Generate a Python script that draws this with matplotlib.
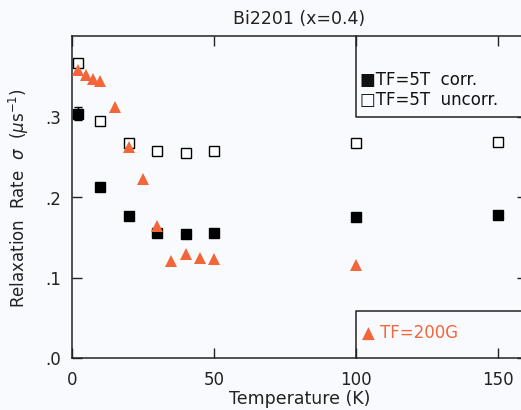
import matplotlib.pyplot as plt

# Datos: temperatura (K) y tasa de relajacion (us^-1)
T_5T = [2, 10, 20, 30, 40, 50, 100, 150]
sigma_corr = [0.304, 0.213, 0.176, 0.155, 0.154, 0.156, 0.175, 0.178]
sigma_uncorr = [0.367, 0.295, 0.268, 0.257, 0.255, 0.257, 0.268, 0.269]
err_corr = [0.008, 0, 0, 0, 0, 0, 0, 0]
err_uncorr = [0.005, 0, 0, 0, 0, 0, 0, 0]

T_200G = [2, 5, 7.5, 10, 15, 20, 25, 30, 35, 40, 45, 50, 100]
sigma_200G = [0.358, 0.352, 0.347, 0.344, 0.312, 0.263, 0.223, 0.164,
              0.121, 0.129, 0.124, 0.123, 0.116]

naranja = '#f2663a'
fondo = '#f9fafd'
tinta = '#222222'

fig = plt.figure(figsize=(5.21, 4.105), dpi=100, facecolor=fondo)
ax = fig.add_axes([0.138, 0.127, 0.873, 0.783], facecolor=fondo)

ax.errorbar(T_5T, sigma_uncorr, yerr=err_uncorr, fmt='s', mfc='white', mec='black',
            mew=1.0, ms=6.5, ecolor='black', elinewidth=1, capsize=3, zorder=3)
ax.errorbar(T_5T, sigma_corr, yerr=err_corr, fmt='s', color='black',
            ms=7, elinewidth=1, capsize=3, zorder=3)
ax.plot(T_200G, sigma_200G, '^', color=naranja, ms=8, mew=0, zorder=4)

ax.set_xlim(0, 160)
ax.set_ylim(0, 0.4)
ax.set_xticks([0, 50, 100, 150])
ax.set_yticks([0, 0.1, 0.2, 0.3])
ax.set_yticklabels(['.0', '.1', '.2', '.3'])
ax.tick_params(direction='in', length=7, width=1, labelsize=12,
               top=True, right=True, colors=tinta)
ax.tick_params(axis='x', pad=9)
ax.tick_params(axis='y', pad=8)
for s in ax.spines.values():
    s.set_linewidth(1.1)
    s.set_color(tinta)

# Cajas de leyenda
ax.plot([100, 100, 160], [0.4, 0.3, 0.3], color=tinta, lw=1.1, clip_on=False)
ax.plot([100, 100, 160], [0, 0.058, 0.058], color=tinta, lw=1.1, clip_on=False)
ax.text(101.5, 0.347, '\u25a0TF=5T  corr.', fontsize=12, va='center', color='#111111')
ax.text(101.5, 0.321, '\u25a1TF=5T  uncorr.', fontsize=12, va='center', color='#111111')
ax.text(102, 0.032, '\u25b2 TF=200G', fontsize=12, va='center', color=naranja)

ax.set_title('Bi2201 (x=0.4)', fontsize=12.5, pad=9, color=tinta)
ax.set_xlabel('Temperature (K)', fontsize=12.5, labelpad=1, color=tinta)
ax.set_ylabel('Relaxation  Rate  $\\sigma$  ($\\mu$s$^{-1}$)', fontsize=12,
              labelpad=10, color=tinta)

plt.savefig('out.png', dpi=100, facecolor=fondo)
